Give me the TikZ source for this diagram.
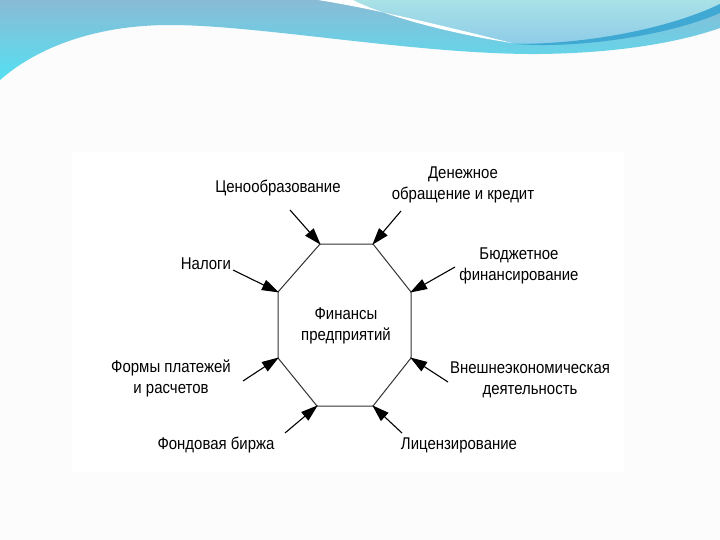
\documentclass[tikz,border=0pt]{standalone}
\usepackage{fontspec}
\setmainfont{Liberation Sans}[FakeStretch=0.88]
\usetikzlibrary{arrows.meta}
\definecolor{bgpage}{HTML}{FCFCFC}
\definecolor{wavetop}{HTML}{89BBD5}
\definecolor{wavebot}{HTML}{55E0F2}
\definecolor{lighttop}{HTML}{A9E1E6}
\definecolor{lightbot}{HTML}{8CCBE9}
\definecolor{darkstroke}{HTML}{3FA9D4}
\tikzset{
  lbl/.style={align=center, inner sep=0pt, font=\fontsize{17}{21}\selectfont, text=black},
  edge/.style={draw=black!80, line width=1pt},
  arr/.style={draw=black, line width=1.1pt, -{Triangle[length=17pt,width=11pt]}, shorten >=-1pt}
}
\begin{document}
\begin{tikzpicture}[x=1pt,y=-1pt]
\useasboundingbox (0,0) rectangle (720,540);
\fill[bgpage] (0,0) rectangle (720,540);
\fill[white] (72,152) rectangle (624,472);
% decorative wave
\shade[top color=wavetop, bottom color=wavebot] (0,0) -- (0,80) .. controls (40,45) and (100,25) .. (170,25) .. controls (260,25) and (420,55) .. (540,54) .. controls (620,53) and (680,42) .. (720,28) -- (720,0) -- cycle;
\shade[top color=lighttop, bottom color=lightbot] (320,0) .. controls (370,8) and (440,25) .. (512,43) .. controls (580,47) and (670,32) .. (720,8) -- (720,0) -- cycle;
\fill[white] (318,0) .. controls (370,8) and (440,25) .. (512,43) .. controls (440,32) and (375,12) .. (353,0) -- cycle;
\fill[darkstroke] (515,44) .. controls (580,49) and (670,35) .. (720,13) -- (720,4) .. controls (670,28) and (590,44) .. (515,44) -- cycle;
% octagon
\coordinate (A) at (320,244);
\coordinate (B) at (373,244);
\coordinate (C) at (411,292);
\coordinate (D) at (411,358);
\coordinate (E) at (373,406);
\coordinate (F) at (317,406);
\coordinate (G) at (278,358);
\coordinate (H) at (278,292);
\draw[edge] (A) -- (B) -- (C) -- (D) -- (E) -- (F) -- (G) -- (H) -- cycle;
\node[lbl] (fin) at (346,326) {Финансы\\предприятий};
% labels
\node[lbl] (cen) at (278,188) {Ценообразование};
\node[lbl] (den) at (463,185) {Денежное\\обращение и кредит};
\node[lbl] (nal) at (206,264) {Налоги};
\node[lbl] (bud) at (519,266) {Бюджетное\\финансирование};
\node[lbl] (form) at (171,378) {Формы платежей\\и расчетов};
\node[lbl] (vn) at (530,380) {Внешнеэкономическая\\деятельность};
\node[lbl] (fond) at (216,445) {Фондовая биржа};
\node[lbl] (lic) at (459,445) {Лицензирование};
% arrow tails
\coordinate (tcen) at (290,210);
\coordinate (tden) at (401,211);
\coordinate (tnal) at (233,270);
\coordinate (tbud) at (455,267);
\coordinate (tform) at (243,381);
\coordinate (tvn) at (448,382);
\coordinate (tfond) at (285,433);
\coordinate (tlic) at (402,433);
\draw[arr] (tcen) -- (A);
\draw[arr] (tden) -- (B);
\draw[arr] (tnal) -- (H);
\draw[arr] (tbud) -- (C);
\draw[arr] (tform) -- (G);
\draw[arr] (tvn) -- (D);
\draw[arr] (tfond) -- (F);
\draw[arr] (tlic) -- (E);
\end{tikzpicture}
\end{document}
